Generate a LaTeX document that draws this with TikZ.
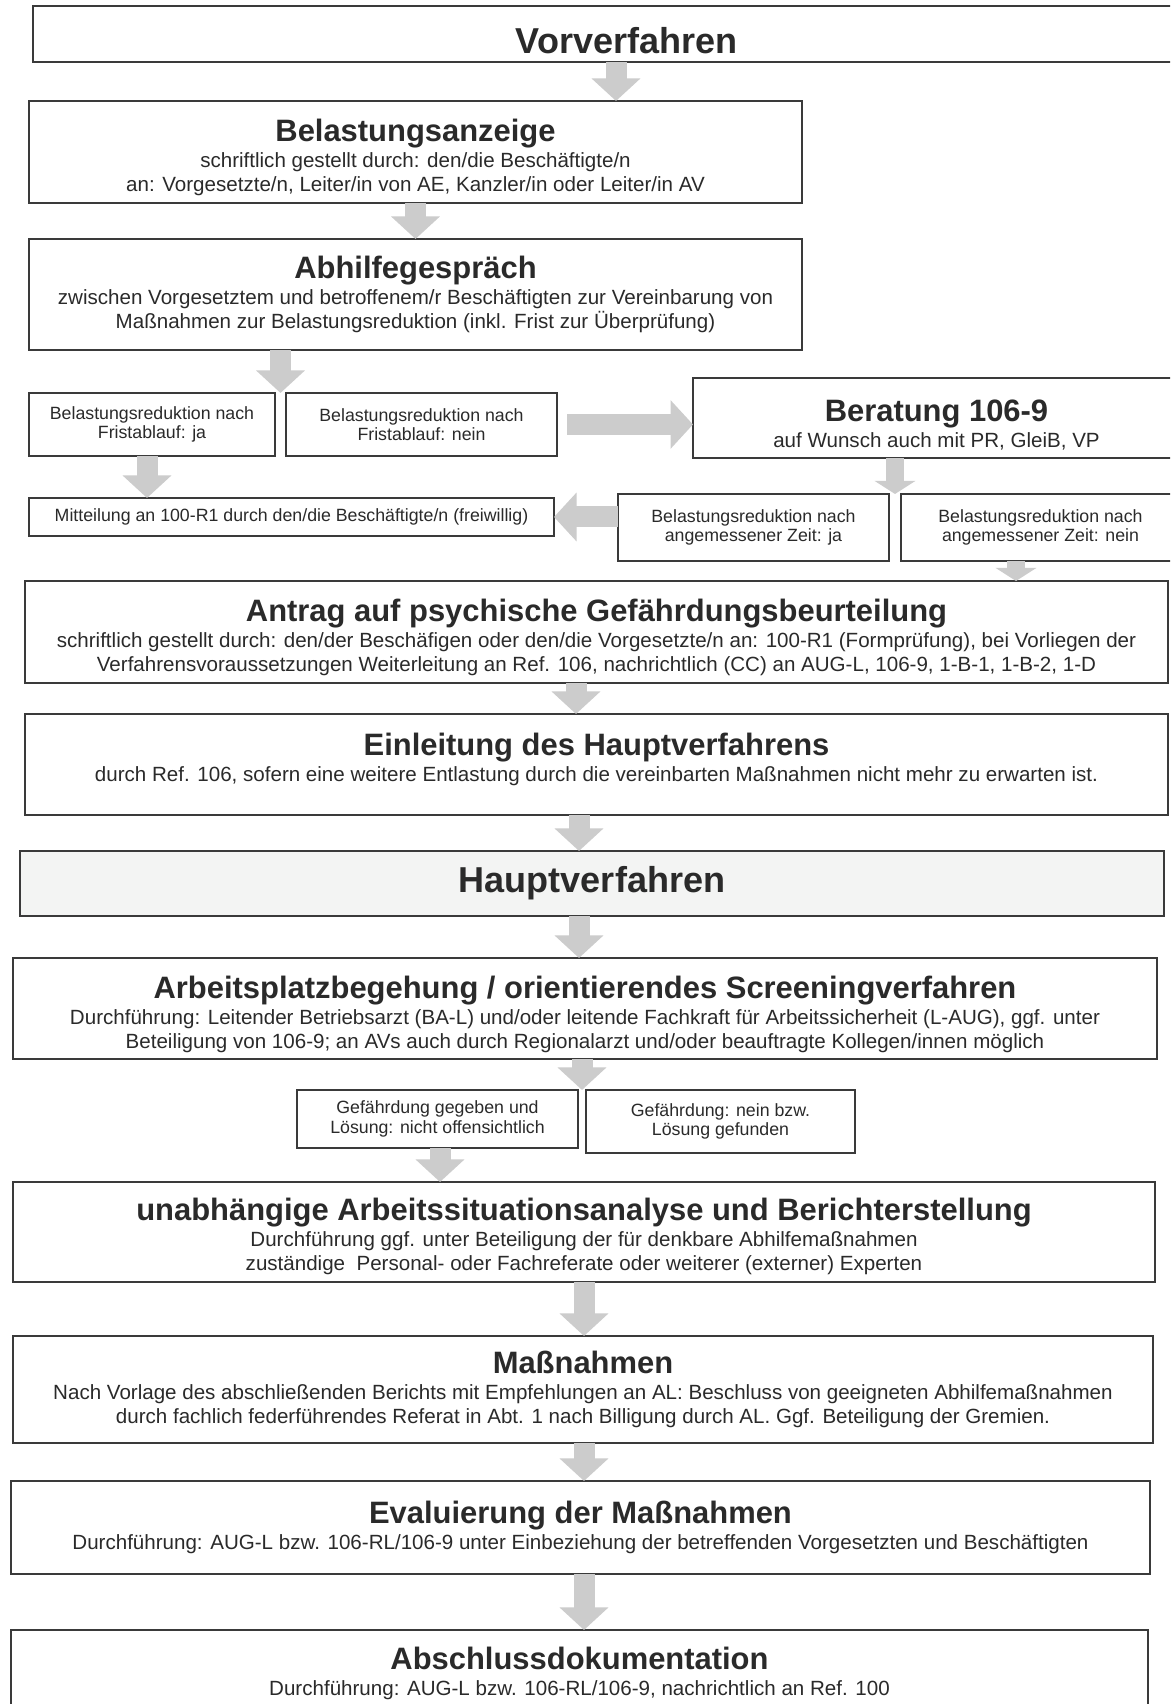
\documentclass[tikz,border=0pt]{standalone}
\usepackage{fontspec}
\setmainfont{Liberation Sans}
\setsansfont{Liberation Sans}
\usetikzlibrary{arrows.meta,calc,positioning}
\definecolor{BoxLine}{HTML}{3A3A3A}
\definecolor{BoxText}{HTML}{2A2A2A}
\definecolor{ArrowGray}{HTML}{CCCCCC}
\definecolor{BandFill}{HTML}{F3F4F3}
% first-line strut, pushes a title block down inside its box
\newcommand{\headstrut}[1][19pt]{\rule{0pt}{#1}}

\begin{document}
\begin{tikzpicture}[
  x=1cm,y=1cm,font=\sffamily,
  box/.style={draw=BoxLine,fill=white,line width=1.1pt,inner sep=2pt,
    outer sep=0pt,align=center,text=BoxText,
    font=\sffamily\fontsize{11.7}{13.6}\selectfont},
  small/.style={box,font=\sffamily\fontsize{10.1}{11}\selectfont},
  band/.style={box,fill=BandFill},
  blockarrow/.style={-{Triangle[length=4.5mm,width=9.5mm]},draw=ArrowGray,
    line width=4.2mm},
  stubarrow/.style={-{Triangle[length=2.6mm,width=8mm]},draw=ArrowGray,
    line width=3.6mm}
]
\useasboundingbox (0,0) rectangle (23.4,34.08);
\fill[white] (0,0) rectangle (23.4,34.08);
\clip (0,0) rectangle (23.4,34.08);

% Vorverfahren
\node[box,minimum width=23.74cm,minimum height=1.12cm] (vor) at (12.53,33.40)
  {\headstrut[22.4pt]{\bfseries\fontsize{20.5}{23}\selectfont Vorverfahren}};

\node[box,minimum width=15.46cm,minimum height=2.04cm] (bel) at (8.31,31.04)
  {\headstrut{\bfseries\fontsize{17.6}{20}\selectfont Belastungsanzeige}\\[1.2pt]
   schriftlich gestellt durch: den/die Beschäftigte/n\\
   an: Vorgesetzte/n, Leiter/in von AE, Kanzler/in oder Leiter/in AV};

\node[box,minimum width=15.46cm,minimum height=2.22cm] (abh) at (8.31,28.19)
  {{\bfseries\fontsize{17.6}{20}\selectfont Abhilfegespräch}\\[1.2pt]
   zwischen Vorgesetztem und betroffenem/r Beschäftigten zur Vereinbarung von\\
   Maßnahmen zur Belastungsreduktion (inkl. Frist zur Überprüfung)};

\node[small,minimum width=4.92cm,minimum height=1.26cm] (fja) at (3.04,25.59)
  {Belastungsreduktion nach\\ Fristablauf: ja};
\node[small,minimum width=5.42cm,minimum height=1.26cm] (fnein) at (8.43,25.59)
  {Belastungsreduktion nach\\ Fristablauf: nein};

\node[box,minimum width=9.74cm,minimum height=1.60cm] (ber) at (18.73,25.72)
  {\headstrut[20pt]{\bfseries\fontsize{17.6}{20}\selectfont Beratung 106-9}\\[1pt]
   auf Wunsch auch mit PR, GleiB, VP};

\node[small,minimum width=10.50cm,minimum height=0.76cm] (mit) at (5.83,23.74)
  {Mitteilung an 100-R1 durch den/die Beschäftigte/n (freiwillig)};

\node[small,minimum width=5.42cm,minimum height=1.34cm] (zja) at (15.07,23.53)
  {Belastungsreduktion nach\\ angemessener Zeit: ja};
\node[small,minimum width=5.58cm,minimum height=1.34cm] (znein) at (20.81,23.53)
  {Belastungsreduktion nach\\ angemessener Zeit: nein};

\node[box,minimum width=22.86cm,minimum height=2.04cm] (antrag) at (11.93,21.44)
  {\headstrut{\bfseries\fontsize{17.6}{20}\selectfont Antrag auf psychische Gefährdungsbeurteilung}\\[1.2pt]
   schriftlich gestellt durch: den/der Beschäfigen oder den/die Vorgesetzte/n an: 100-R1 (Formprüfung), bei Vorliegen der\\
   Verfahrensvoraussetzungen Weiterleitung an Ref. 106, nachrichtlich (CC) an AUG-L, 106-9, 1-B-1, 1-B-2, 1-D};

\node[box,minimum width=22.86cm,minimum height=2.02cm,text depth=12pt] (einl) at (11.93,18.79)
  {\headstrut[16.5pt]{\bfseries\fontsize{17.6}{20}\selectfont Einleitung des Hauptverfahrens}\\[1.2pt]
   durch Ref. 106, sofern eine weitere Entlastung durch die vereinbarten Maßnahmen nicht mehr zu erwarten ist.};

% Hauptverfahren
\node[band,minimum width=22.88cm,minimum height=1.30cm] (haupt) at (11.84,16.41)
  {{\bfseries\fontsize{20.5}{23}\selectfont Hauptverfahren}};

\node[box,minimum width=22.88cm,minimum height=2.02cm] (arb) at (11.70,13.91)
  {\headstrut{\bfseries\fontsize{17.6}{20}\selectfont Arbeitsplatzbegehung / orientierendes Screeningverfahren}\\[1.2pt]
   Durchführung: Leitender Betriebsarzt (BA-L) und/oder leitende Fachkraft für Arbeitssicherheit (L-AUG), ggf. unter\\
   Beteiligung von 106-9; an AVs auch durch Regionalarzt und/oder beauftragte Kollegen/innen möglich};

\node[small,minimum width=5.62cm,minimum height=1.16cm] (gja) at (8.75,11.70)
  {Gefährdung gegeben und\\ Lösung: nicht offensichtlich};
\node[small,minimum width=5.38cm,minimum height=1.26cm] (gnein) at (14.41,11.65)
  {Gefährdung: nein bzw.\\ Lösung gefunden};

\node[box,minimum width=22.84cm,minimum height=2.00cm] (unab) at (11.68,9.44)
  {\headstrut[18pt]{\bfseries\fontsize{17.6}{20}\selectfont unabhängige Arbeitssituationsanalyse und Berichterstellung}\\[1.2pt]
   Durchführung ggf. unter Beteiligung der für denkbare Abhilfemaßnahmen\\
   zuständige\ \ Personal- oder Fachreferate oder weiterer (externer) Experten};

\node[box,minimum width=22.80cm,minimum height=2.14cm] (mass) at (11.66,6.29)
  {{\bfseries\fontsize{17.6}{20}\selectfont Maßnahmen}\\[1.2pt]
   Nach Vorlage des abschließenden Berichts mit Empfehlungen an AL: Beschluss von geeigneten Abhilfemaßnahmen\\
   durch fachlich federführendes Referat in Abt. 1 nach Billigung durch AL. Ggf. Beteiligung der Gremien.};

\node[box,minimum width=22.78cm,minimum height=1.86cm] (eval) at (11.61,3.53)
  {{\bfseries\fontsize{17.6}{20}\selectfont Evaluierung der Maßnahmen}\\[1.2pt]
   Durchführung: AUG-L bzw. 106-RL/106-9 unter Einbeziehung der betreffenden Vorgesetzten und Beschäftigten};

\node[box,minimum width=22.74cm,minimum height=2.00cm,text depth=10pt] (absch) at (11.59,0.48)
  {{\bfseries\fontsize{17.6}{20}\selectfont Abschlussdokumentation}\\[1.2pt]
   Durchführung: AUG-L bzw. 106-RL/106-9, nachrichtlich an Ref. 100};

% Pfeile
\draw[blockarrow] (vor.south -| 12.32,0) -- (bel.north -| 12.32,0);
\draw[blockarrow] (bel.south) -- (abh.north);
\draw[blockarrow] (abh.south -| 5.61,0) -- (fja.north -| 5.61,0);
\draw[blockarrow] ([xshift=2mm]fnein.east) -- (fnein.east -| ber.west);
\draw[blockarrow] (fja.south -| 2.94,0) -- (mit.north -| 2.94,0);
\draw[stubarrow] (ber.south -| 17.90,0) -- (zja.north -| 17.90,0);
\draw[blockarrow] (mit.east -| zja.west) -- (mit.east);
\draw[stubarrow] (znein.south -| 20.32,0) -- (antrag.north -| 20.32,0);
\draw[blockarrow] (antrag.south -| 11.52,0) -- (einl.north -| 11.52,0);
\draw[blockarrow] (einl.south -| 11.58,0) -- (haupt.north -| 11.58,0);
\draw[blockarrow] (haupt.south -| 11.58,0) -- (arb.north -| 11.58,0);
\draw[blockarrow] (arb.south -| 11.64,0) -- (gja.north -| 11.64,0);
\draw[blockarrow] (gja.south -| 8.80,0) -- (unab.north -| 8.80,0);
\draw[blockarrow] (unab.south -| 11.68,0) -- (mass.north -| 11.68,0);
\draw[blockarrow] (mass.south -| 11.68,0) -- (eval.north -| 11.68,0);
\draw[blockarrow] (eval.south -| 11.68,0) -- (absch.north -| 11.68,0);

\end{tikzpicture}
\end{document}
